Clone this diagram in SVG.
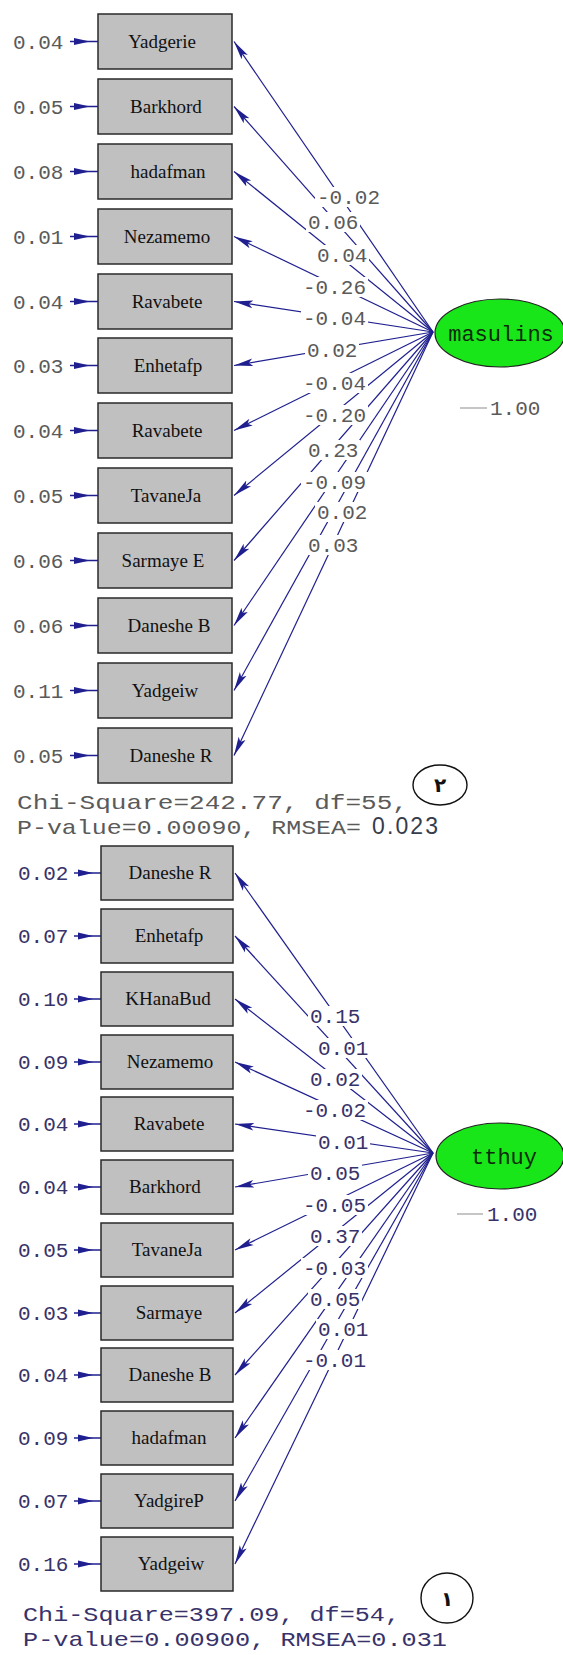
<svg xmlns="http://www.w3.org/2000/svg" width="563" height="1655" viewBox="0 0 563 1655">
<style>
.box{fill:#c0c0c0;stroke:#2a2a2a;stroke-width:1.5}
.nt{font-family:"Liberation Serif",serif;font-size:19px;fill:#111;text-anchor:middle}
.ev{font-family:"Liberation Mono",monospace;font-size:21px}
.g1{fill:#5a5a5a}
.g2{fill:#38326a}
.ld{stroke:#1f1f8f;stroke-width:1.2;fill:none}
.ea{stroke:#1f1f8f;stroke-width:1.5}
.eh{fill:#1f1f8f}
.lb{font-family:"Liberation Mono",monospace;font-size:21px}
.bg{fill:#fff}
.lat{fill:#19e619;stroke:#222;stroke-width:1.2}
.lt{font-family:"Liberation Mono",monospace;font-size:22px;fill:#0d2a0d;text-anchor:middle}
.chi{font-family:"Liberation Mono",monospace;font-size:21px}
.num{fill:none;stroke:#111;stroke-width:1.4}
.ar{font-family:"DejaVu Sans",sans-serif;font-size:20px;font-weight:bold;fill:#111;text-anchor:middle}
</style>
<defs>
<marker id="ah" markerUnits="userSpaceOnUse" markerWidth="20" markerHeight="10" refX="19" refY="5" orient="auto"><path d="M0,1.2 L19,5 L0,8.8 L4,5 Z" fill="#1f1f8f"/></marker>
</defs>

<!-- connectors -->
<g id="connectors">
<g id="top-loadings" class="ld" marker-end="url(#ah)">
<line x1="433" y1="332" x2="234" y2="41.5"/>
<line x1="433" y1="332" x2="234" y2="106.5"/>
<line x1="433" y1="332" x2="234" y2="171.5"/>
<line x1="433" y1="332" x2="234" y2="236.5"/>
<line x1="433" y1="332" x2="234" y2="301.5"/>
<line x1="433" y1="332" x2="234" y2="365.5"/>
<line x1="433" y1="332" x2="234" y2="430.5"/>
<line x1="433" y1="332" x2="234" y2="495.5"/>
<line x1="433" y1="332" x2="234" y2="560.5"/>
<line x1="433" y1="332" x2="234" y2="625.5"/>
<line x1="433" y1="332" x2="234" y2="690.5"/>
<line x1="433" y1="332" x2="234" y2="755.5"/>
</g>
<g id="bottom-loadings" class="ld" marker-end="url(#ah)">
<line x1="433" y1="1153" x2="235" y2="873"/>
<line x1="433" y1="1153" x2="235" y2="936"/>
<line x1="433" y1="1153" x2="235" y2="999"/>
<line x1="433" y1="1153" x2="235" y2="1062"/>
<line x1="433" y1="1153" x2="235" y2="1124"/>
<line x1="433" y1="1153" x2="235" y2="1187"/>
<line x1="433" y1="1153" x2="235" y2="1250"/>
<line x1="433" y1="1153" x2="235" y2="1313"/>
<line x1="433" y1="1153" x2="235" y2="1375"/>
<line x1="433" y1="1153" x2="235" y2="1438"/>
<line x1="433" y1="1153" x2="235" y2="1501"/>
<line x1="433" y1="1153" x2="235" y2="1564"/>
</g>
<g id="top-errors">
<g class="ea"><line x1="70" y1="41.5" x2="98" y2="41.5"/><line x1="70" y1="106.5" x2="98" y2="106.5"/><line x1="70" y1="171.5" x2="98" y2="171.5"/><line x1="70" y1="236.5" x2="98" y2="236.5"/><line x1="70" y1="301.5" x2="98" y2="301.5"/><line x1="70" y1="365.5" x2="98" y2="365.5"/><line x1="70" y1="430.5" x2="98" y2="430.5"/><line x1="70" y1="495.5" x2="98" y2="495.5"/><line x1="70" y1="560.5" x2="98" y2="560.5"/><line x1="70" y1="625.5" x2="98" y2="625.5"/><line x1="70" y1="690.5" x2="98" y2="690.5"/><line x1="70" y1="755.5" x2="98" y2="755.5"/></g>
<g class="eh">
<path d="M74,38 L90,41.5 L74,45 Z"/><path d="M74,103 L90,106.5 L74,110 Z"/><path d="M74,168 L90,171.5 L74,175 Z"/><path d="M74,233 L90,236.5 L74,240 Z"/><path d="M74,298 L90,301.5 L74,305 Z"/><path d="M74,362 L90,365.5 L74,369 Z"/><path d="M74,427 L90,430.5 L74,434 Z"/><path d="M74,492 L90,495.5 L74,499 Z"/><path d="M74,557 L90,560.5 L74,564 Z"/><path d="M74,622 L90,625.5 L74,629 Z"/><path d="M74,687 L90,690.5 L74,694 Z"/><path d="M74,752 L90,755.5 L74,759 Z"/>
</g>
</g>
<g id="bottom-errors">
<g class="ea"><line x1="74" y1="873" x2="101" y2="873"/><line x1="74" y1="936" x2="101" y2="936"/><line x1="74" y1="999" x2="101" y2="999"/><line x1="74" y1="1062" x2="101" y2="1062"/><line x1="74" y1="1124" x2="101" y2="1124"/><line x1="74" y1="1187" x2="101" y2="1187"/><line x1="74" y1="1250" x2="101" y2="1250"/><line x1="74" y1="1313" x2="101" y2="1313"/><line x1="74" y1="1375" x2="101" y2="1375"/><line x1="74" y1="1438" x2="101" y2="1438"/><line x1="74" y1="1501" x2="101" y2="1501"/><line x1="74" y1="1564" x2="101" y2="1564"/></g>
<g class="eh">
<path d="M78,869.5 L93,873 L78,876.5 Z"/><path d="M78,932.5 L93,936 L78,939.5 Z"/><path d="M78,995.5 L93,999 L78,1002.5 Z"/><path d="M78,1058.5 L93,1062 L78,1065.5 Z"/><path d="M78,1120.5 L93,1124 L78,1127.5 Z"/><path d="M78,1183.5 L93,1187 L78,1190.5 Z"/><path d="M78,1246.5 L93,1250 L78,1253.5 Z"/><path d="M78,1309.5 L93,1313 L78,1316.5 Z"/><path d="M78,1371.5 L93,1375 L78,1378.5 Z"/><path d="M78,1434.5 L93,1438 L78,1441.5 Z"/><path d="M78,1497.5 L93,1501 L78,1504.5 Z"/><path d="M78,1560.5 L93,1564 L78,1567.5 Z"/>
</g>
</g>
</g>

<!-- loading labels top -->
<g id="top-labels" class="lb g1">
<rect class="bg" x="315" y="187" width="67" height="20"/><text x="317" y="204">-0.02</text>
<rect class="bg" x="306" y="212" width="54" height="20"/><text x="308" y="229">0.06</text>
<rect class="bg" x="315" y="245" width="54" height="20"/><text x="317" y="262">0.04</text>
<rect class="bg" x="301" y="277" width="67" height="20"/><text x="303" y="294">-0.26</text>
<rect class="bg" x="301" y="308" width="67" height="20"/><text x="303" y="325">-0.04</text>
<rect class="bg" x="305" y="340" width="54" height="20"/><text x="307" y="357">0.02</text>
<rect class="bg" x="301" y="373" width="67" height="20"/><text x="303" y="390">-0.04</text>
<rect class="bg" x="301" y="405" width="67" height="20"/><text x="303" y="422">-0.20</text>
<rect class="bg" x="306" y="440" width="54" height="20"/><text x="308" y="457">0.23</text>
<rect class="bg" x="301" y="472" width="67" height="20"/><text x="303" y="489">-0.09</text>
<rect class="bg" x="315" y="502" width="54" height="20"/><text x="317" y="519">0.02</text>
<rect class="bg" x="306" y="535" width="54" height="20"/><text x="308" y="552">0.03</text>
</g>
<g id="bottom-labels" class="lb g2">
<rect class="bg" x="308" y="1006" width="54" height="20"/><text x="310" y="1023">0.15</text>
<rect class="bg" x="316" y="1038" width="54" height="20"/><text x="318" y="1055">0.01</text>
<rect class="bg" x="308" y="1069" width="54" height="20"/><text x="310" y="1086">0.02</text>
<rect class="bg" x="301" y="1100" width="67" height="20"/><text x="303" y="1117">-0.02</text>
<rect class="bg" x="316" y="1132" width="54" height="20"/><text x="318" y="1149">0.01</text>
<rect class="bg" x="308" y="1163" width="54" height="20"/><text x="310" y="1180">0.05</text>
<rect class="bg" x="301" y="1195" width="67" height="20"/><text x="303" y="1212">-0.05</text>
<rect class="bg" x="308" y="1226" width="54" height="20"/><text x="310" y="1243">0.37</text>
<rect class="bg" x="301" y="1258" width="67" height="20"/><text x="303" y="1275">-0.03</text>
<rect class="bg" x="308" y="1289" width="54" height="20"/><text x="310" y="1306">0.05</text>
<rect class="bg" x="316" y="1319" width="54" height="20"/><text x="318" y="1336">0.01</text>
<rect class="bg" x="301" y="1350" width="67" height="20"/><text x="303" y="1367">-0.01</text>
</g>

<!-- top model nodes -->
<g id="t1"><rect class="box" x="98" y="14" width="134" height="55"/><text class="nt" x="162" y="48">Yadgerie</text><text class="ev g1" x="13" y="48.5">0.04</text></g>
<g id="t2"><rect class="box" x="98" y="79" width="134" height="55"/><text class="nt" x="166" y="113">Barkhord</text><text class="ev g1" x="13" y="113.5">0.05</text></g>
<g id="t3"><rect class="box" x="98" y="144" width="134" height="55"/><text class="nt" x="168" y="178">hadafman</text><text class="ev g1" x="13" y="178.5">0.08</text></g>
<g id="t4"><rect class="box" x="98" y="209" width="134" height="55"/><text class="nt" x="167" y="243">Nezamemo</text><text class="ev g1" x="13" y="243.5">0.01</text></g>
<g id="t5"><rect class="box" x="98" y="274" width="134" height="55"/><text class="nt" x="167" y="308">Ravabete</text><text class="ev g1" x="13" y="308.5">0.04</text></g>
<g id="t6"><rect class="box" x="98" y="338" width="134" height="55"/><text class="nt" x="168" y="372">Enhetafp</text><text class="ev g1" x="13" y="372.5">0.03</text></g>
<g id="t7"><rect class="box" x="98" y="403" width="134" height="55"/><text class="nt" x="167" y="437">Ravabete</text><text class="ev g1" x="13" y="437.5">0.04</text></g>
<g id="t8"><rect class="box" x="98" y="468" width="134" height="55"/><text class="nt" x="166" y="502">TavaneJa</text><text class="ev g1" x="13" y="502.5">0.05</text></g>
<g id="t9"><rect class="box" x="98" y="533" width="134" height="55"/><text class="nt" x="163" y="567">Sarmaye E</text><text class="ev g1" x="13" y="567.5">0.06</text></g>
<g id="t10"><rect class="box" x="98" y="598" width="134" height="55"/><text class="nt" x="169" y="632">Daneshe B</text><text class="ev g1" x="13" y="632.5">0.06</text></g>
<g id="t11"><rect class="box" x="98" y="663" width="134" height="55"/><text class="nt" x="165" y="697">Yadgeiw</text><text class="ev g1" x="13" y="697.5">0.11</text></g>
<g id="t12"><rect class="box" x="98" y="728" width="134" height="55"/><text class="nt" x="171" y="762">Daneshe R</text><text class="ev g1" x="13" y="762.5">0.05</text></g>

<g id="masulins">
<ellipse class="lat" cx="500" cy="333" rx="65" ry="34"/>
<text class="lt" x="501" y="341">masulins</text>
<line x1="460" y1="408" x2="487" y2="408" stroke="#a8a8a8" stroke-width="1.3"/>
<text class="ev g1" x="490" y="415">1.00</text>
</g>

<g id="fit-top">
<text class="chi g1" x="17" y="809" textLength="391" lengthAdjust="spacingAndGlyphs">Chi-Square=242.77, df=55,</text>
<text class="chi g1" x="17" y="834" textLength="344" lengthAdjust="spacingAndGlyphs">P-value=0.00090, RMSEA=</text>
<text x="372" y="834" font-family="Liberation Sans, sans-serif" font-size="23" fill="#353c4c" textLength="66" lengthAdjust="spacing">0.023</text>
</g>
<g id="label-2">
<ellipse class="num" cx="440" cy="785" rx="27" ry="20"/>
<text class="ar" x="440" y="792">٢</text>
</g>

<!-- bottom model nodes -->
<g id="b1"><rect class="box" x="101" y="846" width="132" height="54"/><text class="nt" x="170" y="879">Daneshe R</text><text class="ev g2" x="18" y="880">0.02</text></g>
<g id="b2"><rect class="box" x="101" y="909" width="132" height="54"/><text class="nt" x="169" y="942">Enhetafp</text><text class="ev g2" x="18" y="943">0.07</text></g>
<g id="b3"><rect class="box" x="101" y="972" width="132" height="54"/><text class="nt" x="168" y="1005">KHanaBud</text><text class="ev g2" x="18" y="1006">0.10</text></g>
<g id="b4"><rect class="box" x="101" y="1035" width="132" height="54"/><text class="nt" x="170" y="1068">Nezamemo</text><text class="ev g2" x="18" y="1069">0.09</text></g>
<g id="b5"><rect class="box" x="101" y="1097" width="132" height="54"/><text class="nt" x="169" y="1130">Ravabete</text><text class="ev g2" x="18" y="1131">0.04</text></g>
<g id="b6"><rect class="box" x="101" y="1160" width="132" height="54"/><text class="nt" x="165" y="1193">Barkhord</text><text class="ev g2" x="18" y="1194">0.04</text></g>
<g id="b7"><rect class="box" x="101" y="1223" width="132" height="54"/><text class="nt" x="167" y="1256">TavaneJa</text><text class="ev g2" x="18" y="1257">0.05</text></g>
<g id="b8"><rect class="box" x="101" y="1286" width="132" height="54"/><text class="nt" x="169" y="1319">Sarmaye</text><text class="ev g2" x="18" y="1320">0.03</text></g>
<g id="b9"><rect class="box" x="101" y="1348" width="132" height="54"/><text class="nt" x="170" y="1381">Daneshe B</text><text class="ev g2" x="18" y="1382">0.04</text></g>
<g id="b10"><rect class="box" x="101" y="1411" width="132" height="54"/><text class="nt" x="169" y="1444">hadafman</text><text class="ev g2" x="18" y="1445">0.09</text></g>
<g id="b11"><rect class="box" x="101" y="1474" width="132" height="54"/><text class="nt" x="169" y="1507">YadgireP</text><text class="ev g2" x="18" y="1508">0.07</text></g>
<g id="b12"><rect class="box" x="101" y="1537" width="132" height="54"/><text class="nt" x="171" y="1570">Yadgeiw</text><text class="ev g2" x="18" y="1571">0.16</text></g>

<g id="tthuy">
<ellipse class="lat" cx="500" cy="1156" rx="64" ry="33"/>
<text class="lt" x="504" y="1164">tthuy</text>
<line x1="457" y1="1214" x2="483" y2="1214" stroke="#a8a8a8" stroke-width="1.3"/>
<text class="ev g2" x="487" y="1221">1.00</text>
</g>

<g id="fit-bottom">
<text class="chi g2" x="23" y="1621" textLength="377" lengthAdjust="spacingAndGlyphs">Chi-Square=397.09, df=54,</text>
<text class="chi g2" x="23" y="1646" textLength="424" lengthAdjust="spacingAndGlyphs">P-value=0.00900, RMSEA=0.031</text>
</g>
<g id="label-1">
<ellipse class="num" cx="447" cy="1598" rx="26" ry="25"/>
<text class="ar" x="447" y="1606">١</text>
</g>
</svg>
